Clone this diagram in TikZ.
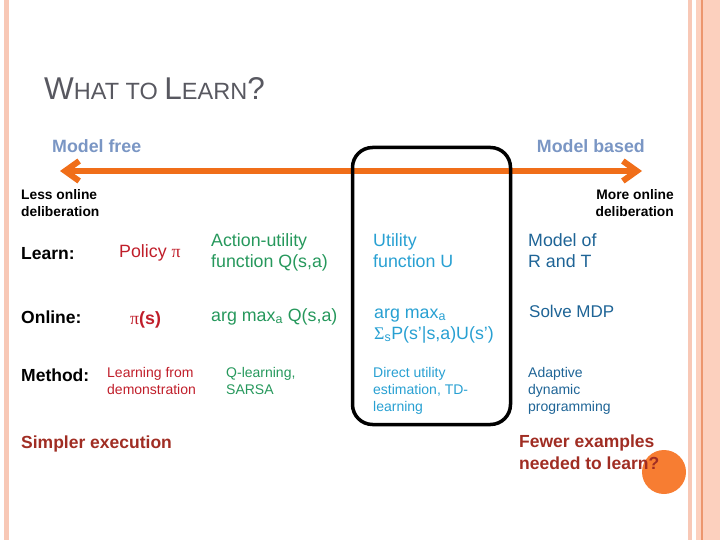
\documentclass[tikz,border=0pt]{standalone}
\usepackage{fontspec}
\setmainfont{Liberation Sans}
\newfontfamily\symfont{Liberation Serif}
\usetikzlibrary{arrows.meta}

\definecolor{stripe}{RGB}{248,200,182}
\definecolor{stripelt}{RGB}{252,208,190}
\definecolor{stripeline}{RGB}{236,150,110}
\definecolor{titlegray}{RGB}{88,88,96}
\definecolor{headblue}{RGB}{122,150,196}
\definecolor{axisorange}{RGB}{240,110,25}
\definecolor{polred}{RGB}{192,30,42}
\definecolor{qgreen}{RGB}{38,152,92}
\definecolor{ucyan}{RGB}{40,160,210}
\definecolor{mblue}{RGB}{30,100,150}
\definecolor{sumred}{RGB}{160,45,35}
\definecolor{dotorange}{RGB}{247,125,50}

\newcommand{\titlecap}[1]{{\fontsize{31.5}{34}\selectfont #1}}
\newcommand{\sym}[1]{{\symfont #1}}

\begin{document}
\begin{tikzpicture}[x=1pt, y=-1pt,
    txt/.style={anchor=base west, inner sep=0pt, align=left},
    rowlbl/.style={txt, font=\fontsize{17.5}{21}\selectfont\bfseries},
    cell/.style={txt, font=\fontsize{17.8}{21}\selectfont},
    method/.style={txt, font=\fontsize{14}{17}\selectfont},
    head/.style={txt, font=\fontsize{17.8}{21}\selectfont\bfseries, text=headblue},
    note/.style={txt, font=\fontsize{13.8}{16.5}\selectfont\bfseries},
    summary/.style={txt, font=\fontsize{17.5}{21.5}\selectfont\bfseries, text=sumred},
]
    \useasboundingbox (0,0) rectangle (720,540);

    % Slide stripes
    \fill[stripe] (4,0) rectangle (9,540);
    \fill[stripe] (688,0) rectangle (692,540);
    \fill[stripelt] (696,0) rectangle (720,540);
    \draw[stripeline, line width=1.2pt] (702,0) -- (702,540);

    % Title
    \node[txt, text=titlegray, font=\fontsize{23.5}{34}\selectfont] (title) at (44,100)
        {\titlecap{W}HAT TO \titlecap{L}EARN\titlecap{?}};

    % Axis
    \node[head] (free) at (52,153) {Model free};
    \node[head, anchor=base east] (based) at (645,153) {Model based};
    \coordinate (axl) at (60,171);
    \coordinate (axr) at (642,171);
    \draw[axisorange, line width=6pt, line cap=round, line join=round,
          {Straight Barb[length=14pt, width=20pt]}-{Straight Barb[length=14pt, width=20pt]}] (axl) -- (axr);
    \node[note] (less) at (21,216) {Less online\\deliberation};
    \node[note, anchor=base east, align=right] (more) at (674,216) {More online\\deliberation};

    % Highlight box
    \draw[line width=3.5pt, rounded corners=20pt] (352.5,147.5) rectangle (510.5,424.5);

    % Learn row
    \node[rowlbl] (learn) at (21,259) {Learn:};
    \node[cell, text=polred] (policy) at (119,258) {Policy \sym{π}};
    \node[cell, text=qgreen] (qfun) at (211,267) {Action-utility\\function Q(s,a)};
    \node[cell, text=ucyan] (ufun) at (373,267) {Utility\\function U};
    \node[cell, text=mblue] (model) at (528,267) {Model of\\R and T};

    % Online row
    \node[rowlbl] (online) at (21,323) {Online:};
    \node[cell, text=polred] (pis) at (130,324) {\sym{π}\textbf{(s)}};
    \node[cell, text=qgreen] (qmax) at (211,321) {arg max\textsubscript{a} Q(s,a)};
    \node[cell, text=ucyan] (umax) at (374,339) {arg max\textsubscript{a}\\\sym{Σ}\textsubscript{s}P(s’|s,a)U(s’)};
    \node[cell, text=mblue, font=\fontsize{17}{21}\selectfont] (mdp) at (529,317) {Solve MDP};

    % Method row
    \node[rowlbl] (method) at (21,381) {Method:};
    \node[method, text=polred] (demo) at (107,394) {Learning from\\demonstration};
    \node[method, text=qgreen] (qlearn) at (226,394) {Q-learning,\\SARSA};
    \node[method, text=ucyan] (direct) at (373,411) {Direct utility\\estimation, TD-\\learning};
    \node[method, text=mblue] (adp) at (528,411) {Adaptive\\dynamic\\programming};

    % Summary
    \node[circle, fill=dotorange, minimum size=44pt, inner sep=0pt] (dot) at (664,472) {};
    \node[summary] (simpler) at (21,448) {Simpler execution};
    \node[summary] (fewer) at (519,469) {Fewer examples\\needed to learn?};
\end{tikzpicture}
\end{document}
